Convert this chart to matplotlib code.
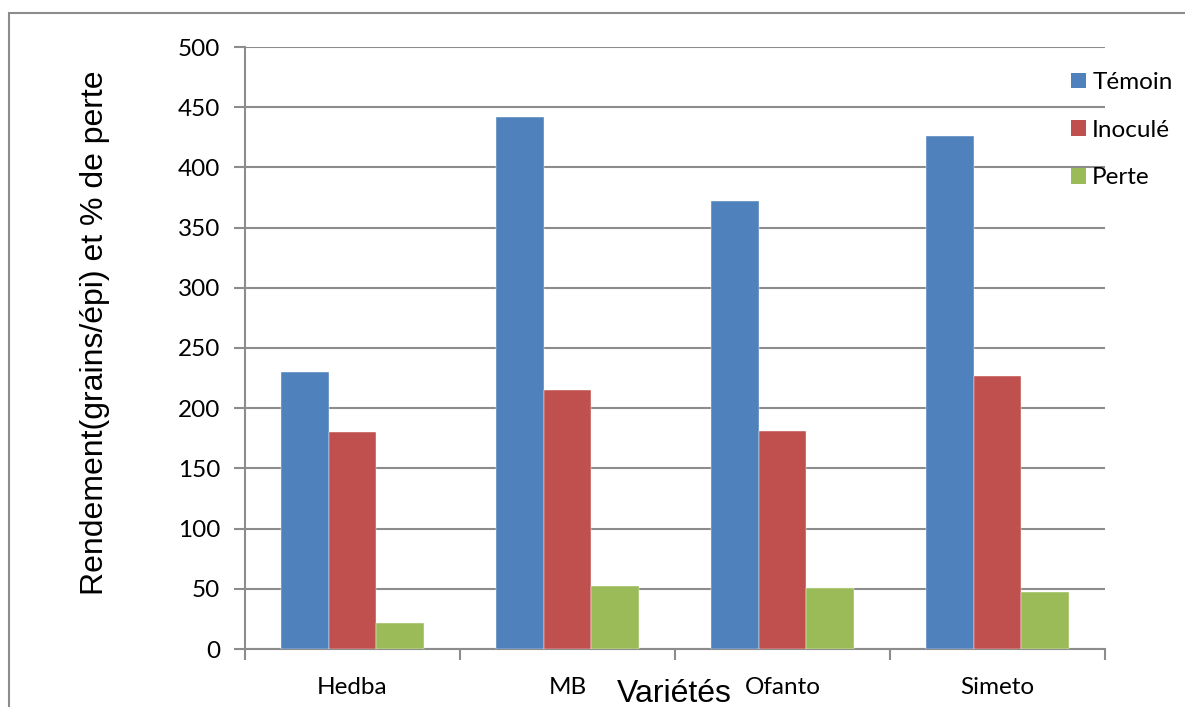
import matplotlib
matplotlib.use("Agg")
import matplotlib.pyplot as plt
import numpy as np
from matplotlib.patches import Rectangle

categories = ["Hedba", "MB", "Ofanto", "Simeto"]
temoin = [230, 442, 372, 426]
inocule = [180, 215, 181, 227]
perte = [22, 52, 51, 47]
series_names = ["Témoin", "Inoculé", "Perte"]
colors = ["#4F81BD", "#C0504D", "#9BBB59"]
yticks = [0, 50, 100, 150, 200, 250, 300, 350, 400, 450, 500]

W, H = 1185, 707
fig = plt.figure(figsize=(W / 100, H / 100), dpi=100)
ax = fig.add_axes([245 / W, (H - 649) / H, 860 / W, 602 / H])

# figure border
fig.patches.append(Rectangle((9 / W, -0.05), 1.1, (H - 13) / H + 0.05,
                             transform=fig.transFigure, fill=False,
                             edgecolor="#8C8C8C", linewidth=1.5, zorder=0))

x = np.arange(len(categories))
bw = 0.221
for j, (vals, name, c) in enumerate(zip([temoin, inocule, perte], series_names, colors)):
    ax.bar(x + (j - 1) * bw, vals, width=bw, color=c, label=name,
           edgecolor="white", linewidth=0.3, zorder=3)

ax.set_xlim(-0.5, len(categories) - 0.5)
ax.set_ylim(0, 500)
ax.set_yticks(yticks)
ax.yaxis.grid(True, color="#8C8C8C", linewidth=1.5, zorder=0)
ax.set_axisbelow(True)

tick_font = "Lato"
fs = 17.5
ax.set_xticks(x)
ax.set_xticklabels(categories, fontsize=fs, fontfamily=tick_font)
ax.set_xticks(np.arange(len(categories) + 1) - 0.5, minor=True)
ax.tick_params(axis="x", which="major", length=0, pad=20)
ax.tick_params(axis="x", which="minor", length=8, width=1.5, color="#8C8C8C")
ax.tick_params(axis="y", length=8, width=1.5, color="#8C8C8C", pad=10,
               labelsize=fs)
for lab in ax.get_yticklabels():
    lab.set_fontfamily(tick_font)

for s in ["top", "right"]:
    ax.spines[s].set_visible(False)
for s in ["left", "bottom"]:
    ax.spines[s].set_color("#8C8C8C")
    ax.spines[s].set_linewidth(1.5)

fig.text(95 / W, 1 - 333 / H, "Rendement(grains/épi) et % de perte",
         rotation=90, ha="center", va="center", fontsize=23,
         fontfamily="Liberation Sans")
fig.text(674 / W, 1 - 694 / H, "Variétés", ha="center", va="center",
         fontsize=23, fontfamily="Liberation Sans")

leg = ax.legend(loc="upper left", bbox_to_anchor=(1071 / W, 1 - 72 / H),
                bbox_transform=fig.transFigure, frameon=False,
                prop={"family": tick_font, "size": fs},
                handlelength=0.62, handleheight=0.62, handletextpad=0.25,
                labelspacing=1.1, borderaxespad=0, borderpad=0)
for p in leg.get_patches():
    p.set_edgecolor("none")

fig.savefig("out.png", dpi=100)
